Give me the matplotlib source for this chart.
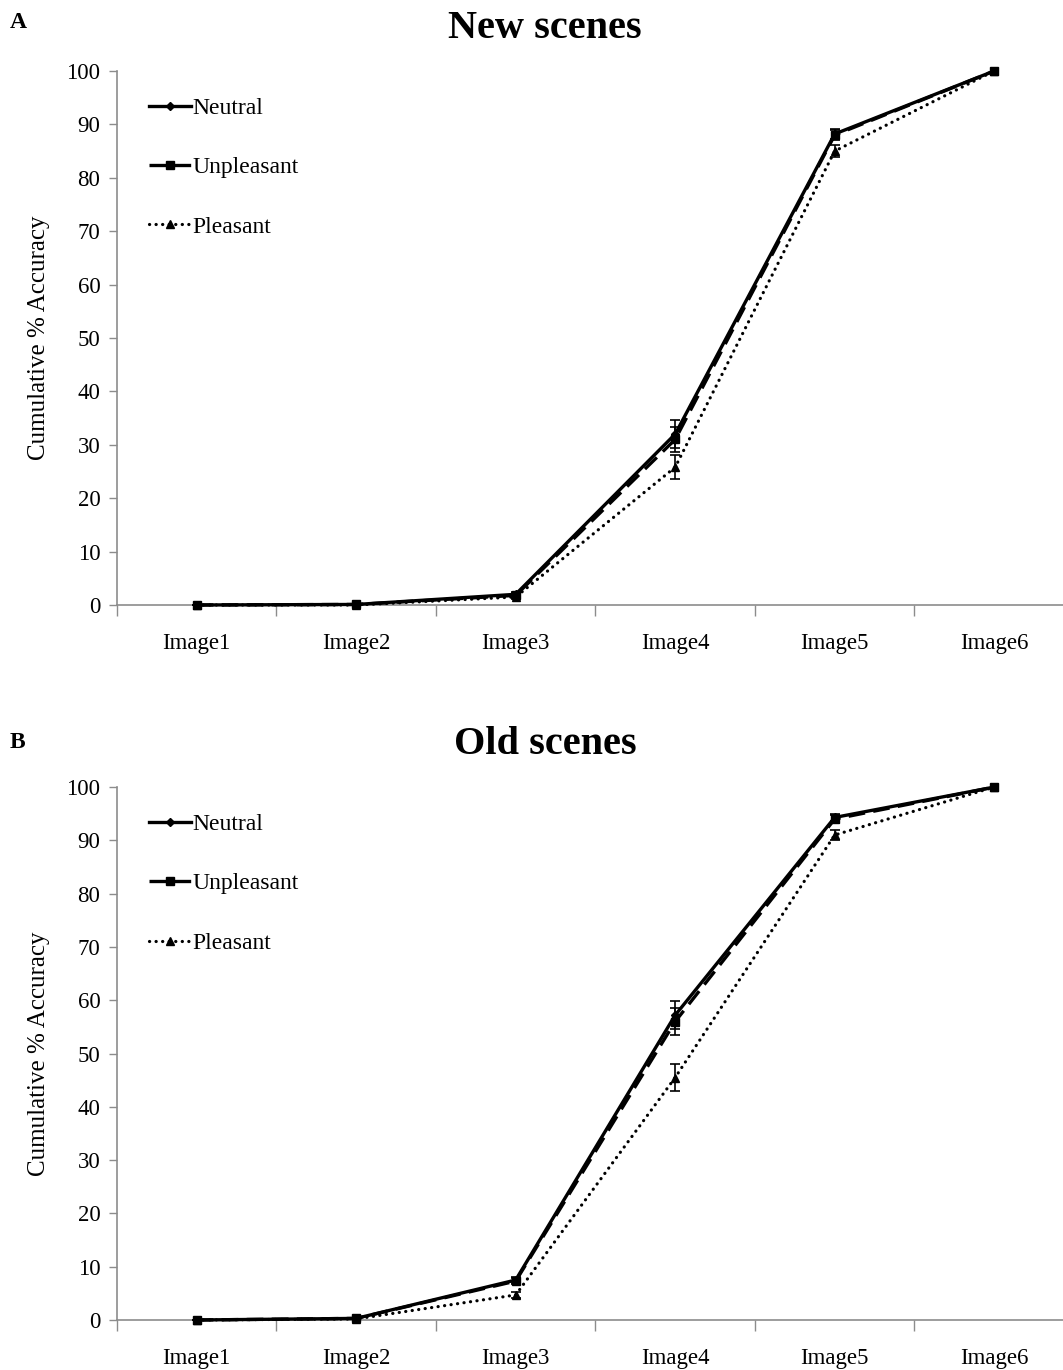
import matplotlib
matplotlib.use("Agg")
import matplotlib.pyplot as plt
import numpy as np

plt.rcParams['font.family'] = ['Liberation Serif', 'DejaVu Serif']

images = ['Image1', 'Image2', 'Image3', 'Image4', 'Image5', 'Image6']

# panel A - new scenes
new_neutral = [0, 0.1, 2.0, 32.0, 88.2, 100]
new_unpleasant = [0, 0.1, 1.8, 31.0, 88.0, 100]
new_pleasant = [0, 0.0, 1.5, 25.8, 85.0, 100]
new_neutral_err = [0, 0, 0.4, 2.6, 1.0, 0]
new_unpleasant_err = [0, 0, 0.4, 2.4, 1.0, 0]
new_pleasant_err = [0, 0, 0.4, 2.3, 1.2, 0]

# panel B - old scenes
old_neutral = [0, 0.3, 7.5, 57.2, 94.3, 100]
old_unpleasant = [0, 0.3, 7.3, 56.0, 94.0, 100]
old_pleasant = [0, 0.2, 4.7, 45.5, 91.0, 100]
old_neutral_err = [0, 0, 0.6, 2.6, 0.7, 0]
old_unpleasant_err = [0, 0, 0.6, 2.5, 0.7, 0]
old_pleasant_err = [0, 0, 0.6, 2.6, 0.9, 0]

fig = plt.figure(figsize=(10.63, 13.70), dpi=100)
axA = fig.add_axes([0.110, 0.5584, 0.9003, 0.3898])
axB = fig.add_axes([0.110, 0.0365, 0.9003, 0.3890])

gray = '#8c8c8c'


def draw_panel(ax, neu, unp, ple, neu_e, unp_e, ple_e):
    x = np.arange(len(images))
    common = dict(color='black', capsize=3.5, elinewidth=1.2, capthick=1.2)
    l1 = ax.errorbar(x, neu, yerr=neu_e, lw=2.4, ls='-', marker='D', ms=4.5,
                     label='Neutral', zorder=4, **common)
    l2 = ax.errorbar(x, unp, yerr=unp_e, lw=2.4, ls=(0, (5, 2.5)),
                     marker='s', ms=6, label='Unpleasant', zorder=3, **common)
    l3 = ax.errorbar(x, ple, yerr=ple_e, lw=2.3, ls=(0, (0.05, 2.0)),
                     dash_capstyle='round', marker='^', ms=6,
                     label='Pleasant', zorder=3, **common)
    for eb in (l1, l2, l3):
        eb[0].set_clip_on(False)
    ax.set_xlim(-0.5, 5.5)
    ax.set_ylim(0, 100)
    ax.set_yticks(np.arange(0, 101, 10))
    ax.set_xticks(x)
    ax.set_xticklabels(images)
    ax.set_xticks(np.arange(-0.5, 5.6, 1), minor=True)
    ax.tick_params(axis='x', which='major', length=0, pad=20, labelsize=16.5)
    ax.tick_params(axis='x', which='minor', length=8, color=gray, width=1)
    ax.tick_params(axis='y', length=6, color=gray, width=1, pad=6, labelsize=16.5)
    for side in ['top', 'right']:
        ax.spines[side].set_visible(False)
    for side in ['left', 'bottom']:
        ax.spines[side].set_color(gray)
        ax.spines[side].set_linewidth(1.2)
    ax.set_ylabel('Cumulative % Accuracy', fontsize=18, labelpad=12)
    handles, labels = ax.get_legend_handles_labels()
    handles = [h[0] for h in handles]
    ax.legend(handles, labels, loc='upper left', bbox_to_anchor=(0.011, 0.99),
              frameon=False, fontsize=17, labelspacing=1.6, handlelength=1.8,
              handletextpad=0.05)


draw_panel(axA, new_neutral, new_unpleasant, new_pleasant,
           new_neutral_err, new_unpleasant_err, new_pleasant_err)
draw_panel(axB, old_neutral, old_unpleasant, old_pleasant,
           old_neutral_err, old_unpleasant_err, old_pleasant_err)

fig.text(545 / 1063, 1 - 29 / 1370, 'New scenes', fontsize=29, fontweight='bold',
         ha='center', va='center')
fig.text(545 / 1063, 1 - 744 / 1370, 'Old scenes', fontsize=29, fontweight='bold',
         ha='center', va='center')
fig.text(10 / 1063, 1 - 22 / 1370, 'A', fontsize=17, fontweight='bold',
         ha='left', va='center')
fig.text(10 / 1063, 1 - 742 / 1370, 'B', fontsize=17, fontweight='bold',
         ha='left', va='center')

fig.savefig('out.png', dpi=100)
